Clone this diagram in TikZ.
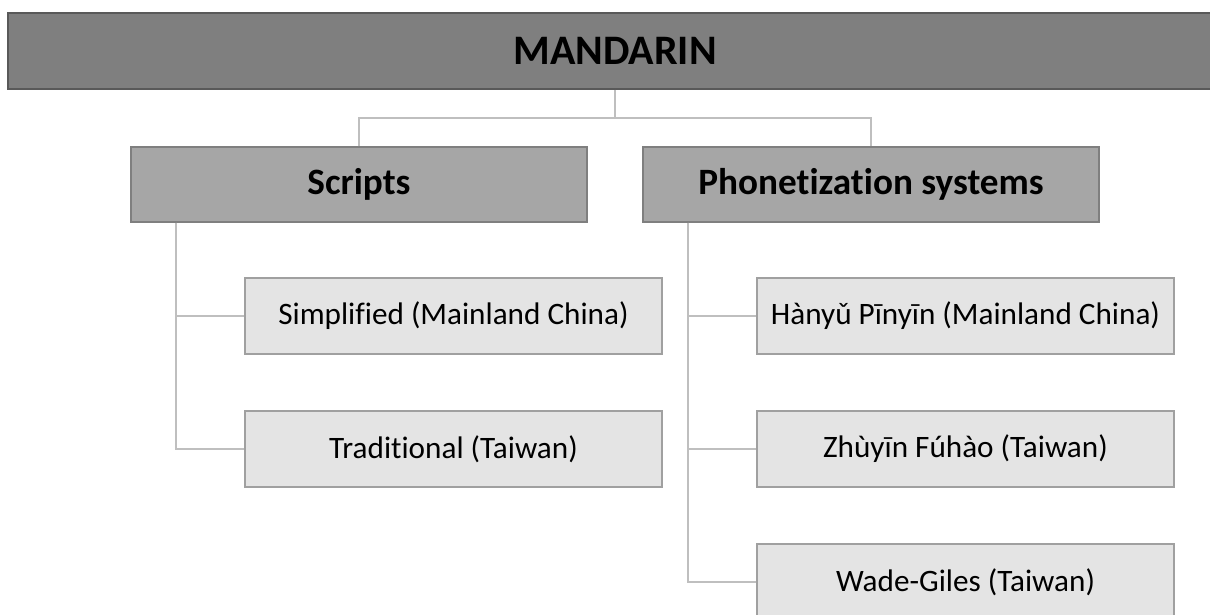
\documentclass[tikz,border=0pt]{standalone}
\usepackage{fontspec}
\setmainfont{Carlito}[Ligatures=NoCommon]
\usepackage{tikz}
\usetikzlibrary{positioning,calc}
\definecolor{topgray}{HTML}{7F7F7F}
\definecolor{topline}{HTML}{595959}
\definecolor{midgray}{HTML}{A6A6A6}
\definecolor{midline}{HTML}{7F7F7F}
\definecolor{leafgray}{HTML}{E4E4E4}
\definecolor{leafline}{HTML}{A0A0A0}
\definecolor{linkgray}{HTML}{BFBFBF}

\begin{document}
\begin{tikzpicture}[x=1pt,y=-1pt,
    rootbox/.style={draw=topline,fill=topgray,line width=1.5pt,minimum width=1214pt,minimum height=76pt,
      inner sep=0pt,font=\fontsize{42}{50}\selectfont\bfseries},
    groupbox/.style={draw=midline,fill=midgray,line width=1.2pt,minimum width=456pt,minimum height=75pt,
      inner sep=0pt,font=\fontsize{37.2}{44}\selectfont\bfseries},
    leafbox/.style={draw=leafline,fill=leafgray,line width=1.2pt,minimum width=417pt,minimum height=76pt,
      inner sep=0pt,font=\fontsize{31.2}{37}\selectfont},
    link/.style={draw=linkgray,line width=2pt}]
  \useasboundingbox (0,0) rectangle (1210,614);
  \clip (0,0) rectangle (1210,614);
  \fill[white] (0,0) rectangle (1210,614);
  % boxes
  \node[rootbox] (mandarin) at (615,51) {MANDARIN};
  \node[groupbox] (scripts) at (359,184.5) {Scripts};
  \node[groupbox] (phonet) at (871,184.5) {Phonetization systems};
  \node[leafbox] (simp) at (453.5,316) {Simplified (Mainland China)};
  \node[leafbox] (trad) at (453.5,449) {Traditional (Taiwan)};
  \node[leafbox] (hanyu) at (965.5,316) {Hànyǔ Pīnyīn (Mainland China)};
  \node[leafbox] (zhuyin) at (965.5,449) {Zhùyīn Fúhào (Taiwan)};
  \node[leafbox] (wade) at (965.5,582) {Wade-Giles (Taiwan)};
  % connectors
  \coordinate (bar) at (615,118);
  \draw[link] (mandarin.south) -- (bar);
  \draw[link] (scripts.north) |- (bar) -| (phonet.north);
  \draw[link] ([xshift=46pt]scripts.south west) |- (simp.west);
  \draw[link] ([xshift=46pt]scripts.south west) |- (trad.west);
  \draw[link] ([xshift=46pt]phonet.south west) |- (hanyu.west);
  \draw[link] ([xshift=46pt]phonet.south west) |- (zhuyin.west);
  \draw[link] ([xshift=46pt]phonet.south west) |- (wade.west);
\end{tikzpicture}
\end{document}
